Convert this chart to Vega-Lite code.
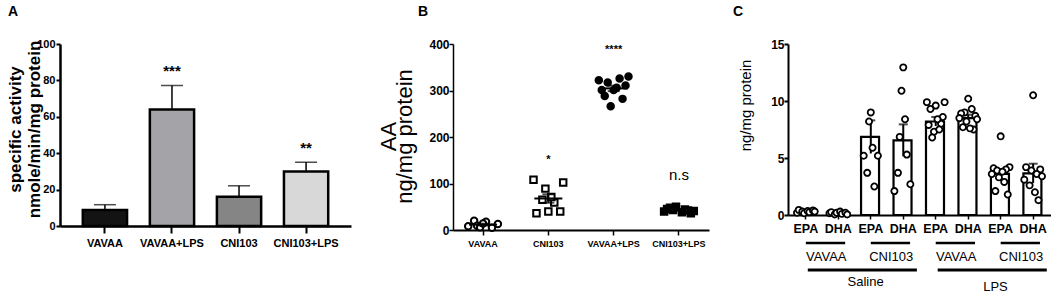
{
  "$schema": "https://vega.github.io/schema/vega-lite/v6.json",
  "background": "white",
  "padding": {"left": 5, "top": 5, "right": 0, "bottom": 0},
  "config": {
    "view": {"stroke": null},
    "font": "Liberation Sans",
    "axis": {"grid": false, "domainColor": "black", "tickColor": "black", "labelColor": "black", "titleColor": "black", "labelFont": "Liberation Sans", "titleFont": "Liberation Sans", "labelOverlap": false},
    "title": {"font": "Liberation Sans", "fontSize": 14, "fontWeight": "bold", "anchor": "start", "frame": "group", "color": "black", "baseline": "alphabetic", "offset": 19},
    "text": {"font": "Liberation Sans", "color": "black"}
  },
  "datasets": {
    "actA": [
      {"group": "VAVAA", "activity": 8.8, "hi": 11.7, "sig": ""},
      {"group": "VAVAA+LPS", "activity": 64, "hi": 77.2, "sig": "***"},
      {"group": "CNI103", "activity": 16.1, "hi": 22.1, "sig": ""},
      {"group": "CNI103+LPS", "activity": 30, "hi": 35, "sig": "**"}
    ],
    "ptsB": [
      {"group": "VAVAA", "rep": 1, "aa": 8}, {"group": "VAVAA", "rep": 3, "aa": 20}, {"group": "VAVAA", "rep": 4, "aa": 9}, {"group": "VAVAA", "rep": 5, "aa": 6},
      {"group": "VAVAA", "rep": 7, "aa": 18}, {"group": "VAVAA", "rep": 6, "aa": 14}, {"group": "VAVAA", "rep": 9, "aa": 5}, {"group": "VAVAA", "rep": 11, "aa": 13},
      {"group": "CNI103", "rep": 1, "aa": 108}, {"group": "CNI103", "rep": 5, "aa": 89}, {"group": "CNI103", "rep": 11, "aa": 102}, {"group": "CNI103", "rep": 2, "aa": 36},
      {"group": "CNI103", "rep": 6, "aa": 40}, {"group": "CNI103", "rep": 10, "aa": 40}, {"group": "CNI103", "rep": 4, "aa": 65}, {"group": "CNI103", "rep": 8, "aa": 59}, {"group": "CNI103", "rep": 7, "aa": 71},
      {"group": "VAVAA+LPS", "rep": 1, "aa": 322}, {"group": "VAVAA+LPS", "rep": 2, "aa": 301}, {"group": "VAVAA+LPS", "rep": 4, "aa": 317}, {"group": "VAVAA+LPS", "rep": 3, "aa": 288},
      {"group": "VAVAA+LPS", "rep": 5, "aa": 266}, {"group": "VAVAA+LPS", "rep": 6, "aa": 301}, {"group": "VAVAA+LPS", "rep": 7, "aa": 306}, {"group": "VAVAA+LPS", "rep": 8, "aa": 326},
      {"group": "VAVAA+LPS", "rep": 9, "aa": 282}, {"group": "VAVAA+LPS", "rep": 11, "aa": 330}, {"group": "VAVAA+LPS", "rep": 10, "aa": 311},
      {"group": "CNI103+LPS", "rep": 1, "aa": 40}, {"group": "CNI103+LPS", "rep": 2, "aa": 45}, {"group": "CNI103+LPS", "rep": 3, "aa": 48}, {"group": "CNI103+LPS", "rep": 4, "aa": 43},
      {"group": "CNI103+LPS", "rep": 5, "aa": 50}, {"group": "CNI103+LPS", "rep": 7, "aa": 38}, {"group": "CNI103+LPS", "rep": 8, "aa": 44}, {"group": "CNI103+LPS", "rep": 9, "aa": 42},
      {"group": "CNI103+LPS", "rep": 10, "aa": 36}, {"group": "CNI103+LPS", "rep": 11, "aa": 41}
    ],
    "sigB": [
      {"group": "CNI103", "sig": "*"},
      {"group": "VAVAA+LPS", "sig": "****"},
      {"group": "CNI103+LPS", "sig": "n.s"}
    ],
    "sumC": [
      {"bar": "Saline VAVAA EPA", "mean": 0.3, "lo": 0.25, "hi": 0.35},
      {"bar": "Saline VAVAA DHA", "mean": 0.16, "lo": 0.11, "hi": 0.21},
      {"bar": "Saline CNI103 EPA", "mean": 6.85, "lo": 5.4, "hi": 8.3},
      {"bar": "Saline CNI103 DHA", "mean": 6.55, "lo": 5.15, "hi": 7.95},
      {"bar": "LPS VAVAA EPA", "mean": 8.2, "lo": 7.8, "hi": 8.6},
      {"bar": "LPS VAVAA DHA", "mean": 8.5, "lo": 8.2, "hi": 8.8},
      {"bar": "LPS CNI103 EPA", "mean": 3.6, "lo": 3.3, "hi": 3.9},
      {"bar": "LPS CNI103 DHA", "mean": 3.65, "lo": 2.8, "hi": 4.5}
    ],
    "ptsC": [
      {"bar": "Saline VAVAA EPA", "rep": 1, "v": 0.2}, {"bar": "Saline VAVAA EPA", "rep": 2, "v": 0.45}, {"bar": "Saline VAVAA EPA", "rep": 4, "v": 0.3}, {"bar": "Saline VAVAA EPA", "rep": 5, "v": 0.15},
      {"bar": "Saline VAVAA EPA", "rep": 7, "v": 0.35}, {"bar": "Saline VAVAA EPA", "rep": 8, "v": 0.25}, {"bar": "Saline VAVAA EPA", "rep": 10, "v": 0.4}, {"bar": "Saline VAVAA EPA", "rep": 11, "v": 0.3},
      {"bar": "Saline VAVAA DHA", "rep": 1, "v": 0.15}, {"bar": "Saline VAVAA DHA", "rep": 2, "v": 0.25}, {"bar": "Saline VAVAA DHA", "rep": 4, "v": 0.05}, {"bar": "Saline VAVAA DHA", "rep": 5, "v": 0.2},
      {"bar": "Saline VAVAA DHA", "rep": 7, "v": 0.3}, {"bar": "Saline VAVAA DHA", "rep": 8, "v": 0.1}, {"bar": "Saline VAVAA DHA", "rep": 10, "v": 0.2}, {"bar": "Saline VAVAA DHA", "rep": 11, "v": 0.05},
      {"bar": "Saline CNI103 EPA", "rep": 6, "v": 9.0}, {"bar": "Saline CNI103 EPA", "rep": 5, "v": 8.2}, {"bar": "Saline CNI103 EPA", "rep": 7, "v": 5.9}, {"bar": "Saline CNI103 EPA", "rep": 2, "v": 5.2},
      {"bar": "Saline CNI103 EPA", "rep": 10, "v": 5.2}, {"bar": "Saline CNI103 EPA", "rep": 4, "v": 3.7}, {"bar": "Saline CNI103 EPA", "rep": 8, "v": 2.5},
      {"bar": "Saline CNI103 DHA", "rep": 6, "v": 12.95}, {"bar": "Saline CNI103 DHA", "rep": 5, "v": 10.9}, {"bar": "Saline CNI103 DHA", "rep": 7, "v": 8.4}, {"bar": "Saline CNI103 DHA", "rep": 4, "v": 6.85},
      {"bar": "Saline CNI103 DHA", "rep": 8, "v": 5.3}, {"bar": "Saline CNI103 DHA", "rep": 3, "v": 3.7}, {"bar": "Saline CNI103 DHA", "rep": 1, "v": 2.1}, {"bar": "Saline CNI103 DHA", "rep": 10, "v": 2.7},
      {"bar": "LPS VAVAA EPA", "rep": 1, "v": 9.9}, {"bar": "LPS VAVAA EPA", "rep": 6, "v": 9.6}, {"bar": "LPS VAVAA EPA", "rep": 11, "v": 9.9}, {"bar": "LPS VAVAA EPA", "rep": 10, "v": 8.6},
      {"bar": "LPS VAVAA EPA", "rep": 3, "v": 9.3}, {"bar": "LPS VAVAA EPA", "rep": 2, "v": 7.9}, {"bar": "LPS VAVAA EPA", "rep": 9, "v": 8.0}, {"bar": "LPS VAVAA EPA", "rep": 5, "v": 7.3},
      {"bar": "LPS VAVAA EPA", "rep": 4, "v": 6.8}, {"bar": "LPS VAVAA EPA", "rep": 8, "v": 7.5}, {"bar": "LPS VAVAA EPA", "rep": 7, "v": 8.4},
      {"bar": "LPS VAVAA DHA", "rep": 6, "v": 10.2}, {"bar": "LPS VAVAA DHA", "rep": 8, "v": 9.3}, {"bar": "LPS VAVAA DHA", "rep": 4, "v": 9.0}, {"bar": "LPS VAVAA DHA", "rep": 2, "v": 8.9},
      {"bar": "LPS VAVAA DHA", "rep": 10, "v": 8.7}, {"bar": "LPS VAVAA DHA", "rep": 1, "v": 8.5}, {"bar": "LPS VAVAA DHA", "rep": 11, "v": 8.4}, {"bar": "LPS VAVAA DHA", "rep": 5, "v": 8.2},
      {"bar": "LPS VAVAA DHA", "rep": 3, "v": 7.7}, {"bar": "LPS VAVAA DHA", "rep": 9, "v": 7.5}, {"bar": "LPS VAVAA DHA", "rep": 7, "v": 7.6},
      {"bar": "LPS CNI103 EPA", "rep": 6, "v": 6.9}, {"bar": "LPS CNI103 EPA", "rep": 11, "v": 4.2}, {"bar": "LPS CNI103 EPA", "rep": 2, "v": 4.1}, {"bar": "LPS CNI103 EPA", "rep": 9, "v": 4.0},
      {"bar": "LPS CNI103 EPA", "rep": 4, "v": 3.9}, {"bar": "LPS CNI103 EPA", "rep": 7, "v": 3.8}, {"bar": "LPS CNI103 EPA", "rep": 1, "v": 3.6}, {"bar": "LPS CNI103 EPA", "rep": 5, "v": 3.3},
      {"bar": "LPS CNI103 EPA", "rep": 8, "v": 2.9}, {"bar": "LPS CNI103 EPA", "rep": 3, "v": 2.1}, {"bar": "LPS CNI103 EPA", "rep": 10, "v": 1.8},
      {"bar": "LPS CNI103 DHA", "rep": 6, "v": 10.5}, {"bar": "LPS CNI103 DHA", "rep": 2, "v": 4.2}, {"bar": "LPS CNI103 DHA", "rep": 10, "v": 4.0}, {"bar": "LPS CNI103 DHA", "rep": 5, "v": 3.9},
      {"bar": "LPS CNI103 DHA", "rep": 8, "v": 3.6}, {"bar": "LPS CNI103 DHA", "rep": 11, "v": 3.4}, {"bar": "LPS CNI103 DHA", "rep": 1, "v": 3.1}, {"bar": "LPS CNI103 DHA", "rep": 4, "v": 2.6},
      {"bar": "LPS CNI103 DHA", "rep": 7, "v": 2.0}, {"bar": "LPS CNI103 DHA", "rep": 9, "v": 1.3}
    ],
    "groupsC": [
      {"label": "VAVAA", "level": "sub", "from": "Saline VAVAA EPA", "to": "Saline VAVAA DHA"},
      {"label": "CNI103", "level": "sub", "from": "Saline CNI103 EPA", "to": "Saline CNI103 DHA"},
      {"label": "VAVAA", "level": "sub", "from": "LPS VAVAA EPA", "to": "LPS VAVAA DHA"},
      {"label": "CNI103", "level": "sub", "from": "LPS CNI103 EPA", "to": "LPS CNI103 DHA"},
      {"label": "Saline", "level": "treatment", "from": "Saline VAVAA EPA", "mid": "Saline VAVAA DHA", "to": "Saline CNI103 DHA"},
      {"label": "LPS", "level": "treatment", "from": "LPS VAVAA EPA", "mid": "LPS VAVAA DHA", "to": "LPS CNI103 DHA"}
    ]
  },
  "bounds": "flush",
  "spacing": 102,
  "resolve": {"scale": {"fill": "independent", "shape": "independent", "xOffset": "independent"}},
  "hconcat": [
    {
      "width": 291,
      "height": 182,
      "title": {"text": "A", "dx": -52},
      "data": {"name": "actA"},
      "encoding": {
        "x": {
          "field": "group", "type": "nominal",
          "sort": ["VAVAA", "VAVAA+LPS", "CNI103", "CNI103+LPS"],
          "scale": {"domain": ["VAVAA", "VAVAA+LPS", "CNI103", "CNI103+LPS"], "paddingInner": 0.34, "paddingOuter": 0.34},
          "axis": {"title": null, "labelAngle": 0, "labelFontSize": 11, "labelFontWeight": "bold", "labelPadding": 4, "tickSize": 7, "tickWidth": 2, "domainWidth": 2.5}
        },
        "y": {
          "field": "activity", "type": "quantitative",
          "title": ["specific activity", "nmole/min/mg protein"],
          "scale": {"domain": [0, 100], "nice": false},
          "axis": {
            "titleFontSize": 17, "titleFontWeight": "bold", "titleLineHeight": 19,
            "titleBaseline": "alphabetic", "titleX": -40, "titleY": 85,
            "values": [0, 20, 40, 60, 80, 100],
            "labelFontSize": 11, "labelFontWeight": "bold", "labelPadding": 1, "labelOverlap": false,
            "tickSize": 4, "tickWidth": 2, "domainWidth": 2.5
          }
        }
      },
      "layer": [
        {
          "mark": {"type": "bar", "stroke": "black", "strokeWidth": 2.5},
          "encoding": {
            "fill": {
              "field": "group", "type": "nominal",
              "scale": {"domain": ["VAVAA", "VAVAA+LPS", "CNI103", "CNI103+LPS"], "range": ["#131313", "#a4a4a8", "#858585", "#d8d8d8"]},
              "legend": null
            }
          }
        },
        {
          "mark": {"type": "rule", "color": "black", "strokeWidth": 1.5},
          "encoding": {"y2": {"field": "hi"}}
        },
        {
          "mark": {"type": "tick", "color": "black", "thickness": 1.5, "size": 22},
          "encoding": {
            "y": {
              "field": "hi", "type": "quantitative",
              "title": ["specific activity", "nmole/min/mg protein"],
              "scale": {"domain": [0, 100], "nice": false},
              "axis": {
                "titleFontSize": 17, "titleFontWeight": "bold", "titleLineHeight": 19,
                "titleBaseline": "alphabetic", "titleX": -40, "titleY": 85,
                "values": [0, 20, 40, 60, 80, 100],
                "labelFontSize": 11, "labelFontWeight": "bold", "labelPadding": 1, "labelOverlap": false,
                "tickSize": 4, "tickWidth": 2, "domainWidth": 2.5
              }
            }
          }
        },
        {
          "mark": {"type": "text", "fontSize": 15, "fontWeight": "bold", "baseline": "middle", "dy": -14},
          "encoding": {
            "y": {
              "field": "hi", "type": "quantitative",
              "title": ["specific activity", "nmole/min/mg protein"],
              "scale": {"domain": [0, 100], "nice": false},
              "axis": {
                "titleFontSize": 17, "titleFontWeight": "bold", "titleLineHeight": 19,
                "titleBaseline": "alphabetic", "titleX": -40, "titleY": 85,
                "values": [0, 20, 40, 60, 80, 100],
                "labelFontSize": 11, "labelFontWeight": "bold", "labelPadding": 1, "labelOverlap": false,
                "tickSize": 4, "tickWidth": 2, "domainWidth": 2.5
              }
            },
            "text": {"field": "sig"}
          }
        }
      ]
    },
    {
      "bounds": "flush",
      "spacing": 79,
      "resolve": {"scale": {"fill": "independent", "shape": "independent", "xOffset": "independent"}},
      "hconcat": [
        {
          "width": 256,
          "height": 186,
          "title": {"text": "B", "dx": -35},
          "data": {"name": "ptsB"},
          "encoding": {
            "x": {
              "field": "group", "type": "nominal",
              "sort": ["VAVAA", "CNI103", "VAVAA+LPS", "CNI103+LPS"],
              "scale": {"domain": ["VAVAA", "CNI103", "VAVAA+LPS", "CNI103+LPS"], "paddingInner": 0.5, "paddingOuter": 0.21},
              "axis": {"title": null, "labelAngle": 0, "labelFontSize": 9, "labelFontWeight": "bold", "labelPadding": 4, "tickSize": 5, "tickWidth": 1.5, "domainWidth": 2}
            }
          },
          "layer": [
            {
              "mark": {"type": "point", "filled": true, "size": 42, "stroke": "black", "strokeWidth": 2, "opacity": 1},
              "encoding": {
                "xOffset": {"field": "rep", "type": "ordinal", "scale": {"domain": [1, 2, 3, 4, 5, 6, 7, 8, 9, 10, 11]}},
                "y": {
                  "field": "aa", "type": "quantitative",
                  "title": ["AA", "ng/mg protein"],
                  "scale": {"domain": [0, 400], "nice": false},
                  "axis": {
                    "titleFontSize": 22, "titleFontWeight": "normal", "titleLineHeight": 16.5,
                    "titleBaseline": "alphabetic", "titleX": -58, "titleY": 92,
                    "values": [0, 100, 200, 300, 400],
                    "labelFontSize": 12, "labelFontWeight": "bold", "labelPadding": 0, "labelOverlap": false,
                    "tickSize": 4, "tickWidth": 1.5, "domainWidth": 1.5
                  }
                },
                "shape": {"field": "group", "type": "nominal", "scale": {"domain": ["VAVAA", "CNI103", "VAVAA+LPS", "CNI103+LPS"], "range": ["circle", "square", "circle", "square"]}, "legend": null},
                "fill": {"field": "group", "type": "nominal", "scale": {"domain": ["VAVAA", "CNI103", "VAVAA+LPS", "CNI103+LPS"], "range": ["white", "white", "black", "black"]}, "legend": null}
              }
            },
            {
              "mark": {"type": "tick", "size": 28, "thickness": 2, "color": "black"},
              "encoding": {"y": {"aggregate": "mean", "field": "aa", "type": "quantitative", "title": ["AA", "ng/mg protein"]}}
            },
            {
              "mark": {"type": "errorbar", "extent": "stderr", "ticks": true, "size": 12, "thickness": 2, "color": "black"},
              "encoding": {"y": {"field": "aa", "type": "quantitative", "title": ["AA", "ng/mg protein"]}}
            },
            {
              "transform": [
                {"aggregate": [{"op": "mean", "field": "aa", "as": "mean"}], "groupby": ["group"]},
                {"lookup": "group", "from": {"data": {"name": "sigB"}, "key": "group", "fields": ["sig"]}},
                {"filter": "datum.sig === '*' || datum.sig === '****'"}
              ],
              "mark": {"type": "text", "dy": -38, "fontSize": 11, "fontWeight": "bold", "baseline": "middle"},
              "encoding": {"y": {"field": "mean", "type": "quantitative", "title": ["AA", "ng/mg protein"]}, "text": {"field": "sig"}}
            },
            {
              "transform": [
                {"aggregate": [{"op": "mean", "field": "aa", "as": "mean"}], "groupby": ["group"]},
                {"lookup": "group", "from": {"data": {"name": "sigB"}, "key": "group", "fields": ["sig"]}},
                {"filter": "datum.sig === 'n.s'"}
              ],
              "mark": {"type": "text", "dy": -35, "fontSize": 15, "fontWeight": "normal", "baseline": "middle"},
              "encoding": {"y": {"field": "mean", "type": "quantitative", "title": ["AA", "ng/mg protein"]}, "text": {"field": "sig"}}
            }
          ]
        },
        {
          "width": 263,
          "height": 171,
          "title": {"text": "C", "dx": -55},
          "layer": [
            {
              "data": {"name": "sumC"},
              "mark": {"type": "bar", "fill": "white", "stroke": "black", "strokeWidth": 2.2},
              "encoding": {
                "x": {
                  "field": "bar", "type": "nominal",
                  "scale": {"domain": ["Saline VAVAA EPA", "Saline VAVAA DHA", "Saline CNI103 EPA", "Saline CNI103 DHA", "LPS VAVAA EPA", "LPS VAVAA DHA", "LPS CNI103 EPA", "LPS CNI103 DHA"], "paddingInner": 0.4, "paddingOuter": 0.25},
                  "axis": {"title": null, "labelAngle": 0, "labelExpr": "slice(datum.value, -3)", "labelFontSize": 12.5, "labelFontWeight": "bold", "labelPadding": 3, "tickSize": 4, "tickWidth": 1.5, "domainWidth": 2}
                },
                "y": {
                  "field": "mean", "type": "quantitative",
                  "title": "ng/mg protein",
                  "scale": {"domain": [0, 15], "nice": false},
                  "axis": {
                    "titleFontSize": 15, "titleFontWeight": "normal",
                    "titleBaseline": "alphabetic", "titleX": -38, "titleY": 61,
                    "values": [0, 5, 10, 15],
                    "labelFontSize": 12, "labelFontWeight": "bold", "labelPadding": 0,
                    "tickSize": 4, "tickWidth": 2, "domainWidth": 2
                  }
                }
              }
            },
            {
              "data": {"name": "sumC"},
              "mark": {"type": "rule", "color": "black", "strokeWidth": 2},
              "encoding": {"x": {"field": "bar", "type": "nominal"}, "y": {"field": "lo", "type": "quantitative", "title": "ng/mg protein"}, "y2": {"field": "hi"}}
            },
            {
              "data": {"name": "sumC"},
              "mark": {"type": "tick", "color": "black", "thickness": 2, "size": 9},
              "encoding": {"x": {"field": "bar", "type": "nominal"}, "y": {"field": "hi", "type": "quantitative", "title": "ng/mg protein"}}
            },
            {
              "data": {"name": "ptsC"},
              "mark": {"type": "point", "shape": "circle", "filled": true, "fill": "white", "stroke": "black", "strokeWidth": 1.8, "size": 38, "opacity": 1},
              "encoding": {
                "x": {"field": "bar", "type": "nominal"},
                "xOffset": {"field": "rep", "type": "ordinal", "scale": {"domain": [1, 2, 3, 4, 5, 6, 7, 8, 9, 10, 11]}},
                "y": {"field": "v", "type": "quantitative", "title": "ng/mg protein"}
              }
            },
            {
              "data": {"name": "groupsC"},
              "transform": [{"filter": "datum.level === 'sub'"}],
              "mark": {"type": "rule", "color": "black", "strokeWidth": 2.5},
              "encoding": {
                "x": {"field": "from", "type": "nominal", "bandPosition": 0.5},
                "x2": {"field": "to", "bandPosition": 0.85},
                "y": {"datum": -2.46}
              }
            },
            {
              "data": {"name": "groupsC"},
              "transform": [{"filter": "datum.level === 'sub'"}],
              "mark": {"type": "text", "fontSize": 13, "baseline": "middle", "align": "center"},
              "encoding": {
                "x": {"field": "from", "type": "nominal", "bandPosition": 1.55},
                "y": {"datum": -3.68},
                "text": {"field": "label"}
              }
            },
            {
              "data": {"name": "groupsC"},
              "transform": [{"filter": "datum.level === 'treatment'"}],
              "mark": {"type": "rule", "color": "black", "strokeWidth": 3},
              "encoding": {
                "x": {"field": "from", "type": "nominal", "bandPosition": 0.6},
                "x2": {"field": "to", "bandPosition": 1.2},
                "y": {"datum": -4.82}
              }
            },
            {
              "data": {"name": "groupsC"},
              "transform": [{"filter": "datum.label === 'Saline'"}],
              "mark": {"type": "text", "fontSize": 13, "baseline": "middle", "align": "center"},
              "encoding": {
                "x": {"field": "mid", "type": "nominal", "bandPosition": 1.9},
                "y": {"datum": -5.9},
                "text": {"field": "label"}
              }
            },
            {
              "data": {"name": "groupsC"},
              "transform": [{"filter": "datum.label === 'LPS'"}],
              "mark": {"type": "text", "fontSize": 13, "baseline": "middle", "align": "center"},
              "encoding": {
                "x": {"field": "mid", "type": "nominal", "bandPosition": 1.9},
                "y": {"datum": -6.35},
                "text": {"field": "label"}
              }
            }
          ]
        }
      ]
    }
  ]
}
